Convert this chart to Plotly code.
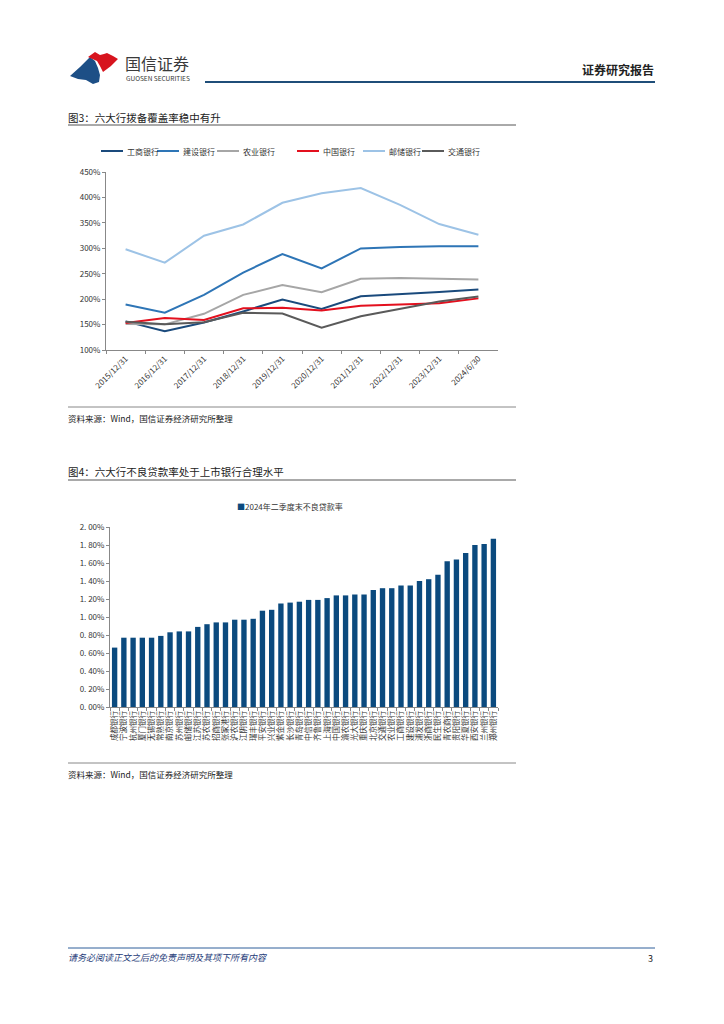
import plotly.graph_objects as go

# ---------------- data ----------------
dates = ["2015/12/31", "2016/12/31", "2017/12/31", "2018/12/31", "2019/12/31",
         "2020/12/31", "2021/12/31", "2022/12/31", "2023/12/31", "2024/6/30"]
icbc = [156.3, 136.7, 154.1, 175.8, 199.3, 180.7, 205.8, 209.5, 214.0, 219.0]
ccb = [189.4, 173.4, 208.4, 252.2, 288.8, 260.6, 299.7, 302.6, 303.9, 304.1]
abc = [151.0, 150.4, 171.1, 208.4, 227.7, 213.6, 240.0, 241.5, 239.9, 238.5]
boc = [153.3, 162.8, 159.2, 182.0, 182.9, 177.8, 187.1, 188.7, 191.7, 201.5]
psbc = [298.0, 271.7, 324.8, 346.8, 389.5, 408.1, 418.6, 385.5, 347.6, 326.7]
bocom = [155.6, 150.5, 154.7, 173.1, 171.8, 143.9, 166.5, 180.7, 195.2, 205.0]
series_names = ["工商银行", "建设银行", "农业银行", "中国银行", "邮储银行", "交通银行"]
y_ticks1 = [100, 150, 200, 250, 300, 350, 400, 450]

banks = ["成都银行", "宁波银行", "杭州银行", "厦门银行", "无锡银行", "常熟银行", "南京银行",
         "苏州银行", "邮储银行", "江苏银行", "苏农银行", "招商银行", "张家港行", "沪农银行",
         "江阴银行", "瑞丰银行", "平安银行", "兴业银行", "紫金银行", "长沙银行", "青岛银行",
         "中信银行", "齐鲁银行", "上海银行", "中国银行", "渝农银行", "光大银行", "重庆银行",
         "北京银行", "交通银行", "农业银行", "工商银行", "建设银行", "浦发银行", "浙商银行",
         "民生银行", "青农商行", "贵阳银行", "华夏银行", "西安银行", "兰州银行", "郑州银行"]
npl = [0.66, 0.77, 0.77, 0.77, 0.77, 0.79, 0.83, 0.84, 0.84, 0.89, 0.92, 0.94, 0.94, 0.97,
       0.97, 0.98, 1.07, 1.08, 1.15, 1.16, 1.17, 1.19, 1.19, 1.21, 1.24, 1.24, 1.25, 1.25,
       1.30, 1.32, 1.32, 1.35, 1.35, 1.40, 1.42, 1.47, 1.62, 1.64, 1.71, 1.80, 1.81, 1.87]
bar_name = "2024年二季度末不良贷款率"
y_ticks2 = [0.0, 0.2, 0.4, 0.6, 0.8, 1.0, 1.2, 1.4, 1.6, 1.8, 2.0]

# ---------------- helpers ----------------
W, H = 724, 1024
OFF = 8  # page body margin in the browser
def px(x):
    return (x - OFF) / W
def py(y):
    return 1 - (y - OFF) / H

FONT = "Noto Sans CJK SC"
colors = ["#1a4a7c", "#2e75b6", "#a6a6a6", "#e3101e", "#9dc3e6", "#5a5a5a"]
BAR_COLOR = "#0b4a7e"

fig = go.Figure()

for name, vals, c in zip(series_names, [icbc, ccb, abc, boc, psbc, bocom], colors):
    fig.add_trace(go.Scatter(x=dates, y=vals, mode="lines", name=name,
                             line=dict(color=c, width=2), xaxis="x", yaxis="y",
                             showlegend=False))

fig.add_trace(go.Bar(x=banks, y=npl, name=bar_name,
                     marker=dict(color=BAR_COLOR, line=dict(width=0)),
                     xaxis="x2", yaxis="y2", showlegend=False))

axis_font = dict(family=FONT, size=8, color="#333333")
common_axis = dict(showline=True, linecolor="#888888", linewidth=1, ticks="outside",
                   ticklen=3, tickcolor="#888888",
                   showgrid=False, zeroline=False, automargin=False)

fig.update_layout(
    template="none",
    width=W, height=H, margin=dict(l=0, r=0, t=0, b=0, pad=0),
    paper_bgcolor="white", plot_bgcolor="white",
    font=dict(family=FONT, size=9, color="#333333"),
    bargap=0.42,
    showlegend=False,
    xaxis=dict(domain=[px(106), px(498)], anchor="y", type="category",
               range=[-0.5, 9.5], tickson="boundaries", tickangle=-45,
               tickfont=axis_font, **common_axis),
    yaxis=dict(domain=[py(350), py(172)], anchor="x", range=[100, 450],
               tickmode="array", tickvals=y_ticks1, ticktext=[f"{v}%" for v in y_ticks1],
               tickfont=axis_font, **common_axis),
    xaxis2=dict(domain=[px(110), px(498)], anchor="y2", type="category",
                range=[-0.5, len(banks) - 0.5], tickson="boundaries",
                tickmode="array", tickvals=banks, ticktext=banks,
                tickangle=-90, tickfont=dict(family=FONT, size=7.5, color="#333333"),
                **common_axis),
    yaxis2=dict(domain=[py(707), py(527)], anchor="x2", range=[0, 2.0],
                tickmode="array", tickvals=y_ticks2,
                ticktext=[f"{v:.2f}%".replace(".", ". ") for v in y_ticks2],
                tickfont=axis_font, **common_axis),
)

# ---------------- page decorations ----------------
shapes = []
def hline(y, x0, x1, color, width):
    shapes.append(dict(type="line", xref="paper", yref="paper", x0=px(x0), x1=px(x1),
                       y0=py(y), y1=py(y), line=dict(color=color, width=width)))

hline(82, 205, 655, "#1f4e79", 2)
hline(125, 68, 516, "#555555", 1)
hline(407, 68, 516, "#888888", 1)
hline(480, 68, 516, "#555555", 1)
hline(763, 68, 516, "#888888", 1)
hline(948, 68, 655, "#2e5e9a", 1)

def poly(points, color):
    d = "M " + " L ".join(f"{px(x):.5f},{py(y):.5f}" for x, y in points) + " Z"
    shapes.append(dict(type="path", xref="paper", yref="paper", path=d,
                       fillcolor=color, line=dict(width=0)))

# logo
poly([(70, 76), (80, 67), (90, 57), (95, 61), (98, 68), (100, 75), (99, 82),
      (93, 84), (86, 80), (78, 79)], "#1d4f86")
poly([(88, 57), (95, 52), (100, 55), (104, 54), (107, 53), (113, 56), (118, 59),
      (111, 66), (103, 72), (100, 66), (97, 61)], "#d7141e")

annotations = []
def text(x, y, s, size, color="#333333", xanchor="left", bold=False):
    if bold:
        s = f"<b>{s}</b>"
    annotations.append(dict(xref="paper", yref="paper", x=px(x), y=py(y), text=s,
                            showarrow=False, xanchor=xanchor, yanchor="middle",
                            font=dict(family=FONT, size=size, color=color)))

text(123, 63, "国信证券", 16, "#3a3a3a")
text(124, 78, "GUOSEN SECURITIES", 6.5, "#333333")
text(656, 69, "证券研究报告", 12, "#222222", xanchor="right", bold=True)
text(66, 117, "图3：六大行拨备覆盖率稳中有升", 10.5, "#222222")
text(66, 418, "资料来源：Wind，国信证券经济研究所整理", 8.5, "#222222")
text(66, 471, "图4：六大行不良贷款率处于上市银行合理水平", 10.5, "#222222")
text(66, 774, "资料来源：Wind，国信证券经济研究所整理", 8.5, "#222222")
text(66, 957, "<i>请务必阅读正文之后的免责声明及其项下所有内容</i>", 9, "#1f3d7a")
text(655, 958, "3", 9, "#222222", xanchor="right")

# line-chart legend (line sample + label)
legend_x = [101, 157, 217, 297, 363, 422]
for lx, name, c in zip(legend_x, series_names, colors):
    shapes.append(dict(type="line", xref="paper", yref="paper", x0=px(lx), x1=px(lx + 22),
                       y0=py(151), y1=py(151), line=dict(color=c, width=2)))
    text(lx + 24, 151, name, 8, "#333333")

# bar legend (small square marker as in the reference)
text(290, 506, f"<span style='color:{BAR_COLOR}'>■</span>{bar_name}", 8, "#333333",
     xanchor="center")

fig.update_layout(shapes=shapes, annotations=annotations)

fig.write_html("out.html")
